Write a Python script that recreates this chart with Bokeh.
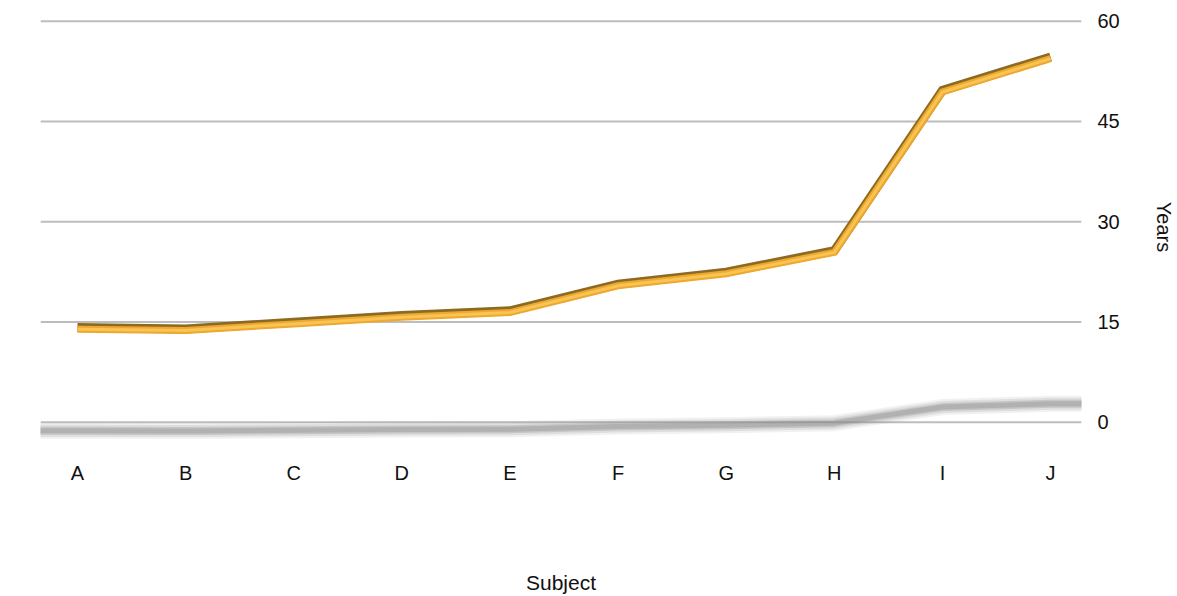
from bokeh.plotting import figure
from bokeh.models import FixedTicker, LinearAxis, Range1d
from bokeh.embed import file_html
from bokeh.resources import INLINE

# Data
subjects = ["A", "B", "C", "D", "E", "F", "G", "H", "I", "J"]
years = [14.0, 13.8, 14.8, 15.8, 16.5, 20.5, 22.3, 25.5, 49.5, 54.5]
y_ticks = [0, 15, 30, 45, 60]

xs = list(range(len(subjects)))
FONT = "Liberation Sans"
X0, X1 = -0.342, 9.286

p = figure(
    width=1177, height=596,
    x_range=Range1d(X0, X1),
    y_range=Range1d(-2.6, 61),
    output_backend="svg", toolbar_location=None,
    y_axis_location=None,
    min_border_left=40, min_border_right=94,
    min_border_top=14, min_border_bottom=136,
)
p.outline_line_color = None
p.background_fill_color = "white"
p.border_fill_color = "white"

# x axis: subject letters
xa = p.xaxis[0]
xa.ticker = FixedTicker(ticks=xs)
xa.major_label_overrides = {i: s for i, s in enumerate(subjects)}
xa.axis_line_color = None
xa.major_tick_line_color = None
xa.minor_tick_line_color = None
xa.major_label_standoff = 16
xa.major_label_text_font = FONT
xa.major_label_text_font_size = "20px"
xa.major_label_text_color = "#111111"
xa.axis_label = "Subject"
xa.axis_label_text_font = FONT
xa.axis_label_text_font_size = "21px"
xa.axis_label_text_font_style = "normal"
xa.axis_label_text_color = "#111111"
xa.axis_label_standoff = 84

# y axis on the right
ya = LinearAxis(ticker=FixedTicker(ticks=y_ticks))
ya.axis_line_color = None
ya.major_tick_line_color = None
ya.minor_tick_line_color = None
ya.major_label_standoff = 10
ya.major_label_text_font = FONT
ya.major_label_text_font_size = "20px"
ya.major_label_text_color = "#111111"
ya.axis_label = "Years"
ya.axis_label_text_font = FONT
ya.axis_label_text_font_size = "20px"
ya.axis_label_text_font_style = "normal"
ya.axis_label_text_color = "#111111"
ya.axis_label_standoff = 30
p.add_layout(ya, "right")

p.xgrid.grid_line_color = None
p.ygrid.grid_line_color = None
# horizontal gridlines drawn from the tick values
for t in y_ticks:
    p.line([X0, X1], [t, t], line_color="#bdbdbd", line_width=2)

# soft floor shadow cast by the series
shadow = [0.1 * v - 2.7 for v in years]
sx = [X0] + xs + [X1]
sy = [shadow[0]] + shadow + [shadow[-1]]
for w, a in [(16, 0.12), (12, 0.18), (8, 0.28), (5, 0.35)]:
    p.line(sx, sy, line_color="#8a8a8a", line_width=w, line_alpha=a,
           line_join="round", line_cap="round")

# ribbon-style series line: darker rim, gold body, bright core
p.line(xs, [v + 0.15 for v in years], line_color="#8c6a22", line_width=9,
       line_join="miter")
p.line(xs, [v - 0.1 for v in years], line_color="#eea830", line_width=7,
       line_join="miter")
p.line(xs, [v - 0.1 for v in years], line_color="#f8c453", line_width=3,
       line_join="miter")

open("out.html", "w").write(file_html(p, INLINE))
